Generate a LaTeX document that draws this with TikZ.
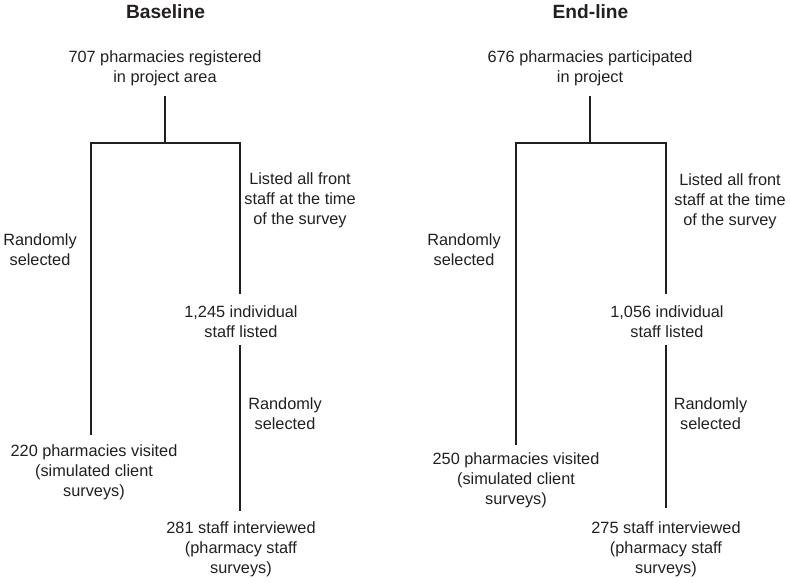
\documentclass[tikz,border=0pt]{standalone}
\usepackage{fontspec}
\setmainfont{Liberation Sans}
\definecolor{ink}{RGB}{35,31,32}
\begin{document}
\begin{tikzpicture}[x=1pt,y=-1pt,
  txt/.style={anchor=north,inner sep=0pt,outer sep=0pt,align=center,text=ink,font=\fontsize{16.3}{19.6}\selectfont},
  ttl/.style={anchor=north,inner sep=0pt,outer sep=0pt,text=ink,font=\fontsize{19.2}{22}\selectfont\bfseries},
  link/.style={draw=ink,line width=1.3pt}]
\useasboundingbox (0,0) rectangle (790,582);
% ---------- Baseline ----------
\node[ttl] (tA) at (165.5,4.5) {Baseline};
\node[txt] (topA) at (165,51) {707 pharmacies registered\\in project area};
\node[txt] (rsA) at (40,234) {Randomly\\selected};
\node[txt] (laA) at (300,173) {Listed all front\\staff at the time\\of the survey};
\node[txt] (indA) at (241,306) {1,245 individual\\staff listed};
\node[txt] (rs2A) at (285,398) {Randomly\\selected};
\node[txt] (visA) at (94,445) {220 pharmacies visited\\(simulated client\\surveys)};
\node[txt] (stA) at (241,522) {281 staff interviewed\\(pharmacy staff\\surveys)};
\coordinate (jA) at (165,143);
\coordinate (cLA) at (91,143);
\coordinate (cRA) at (240,143);
\draw[link,shorten <=10pt] (topA.south) -- (jA);
\draw[link,shorten <=10pt,shorten >=12pt] (visA.north -| cLA) -- (cLA) -- (cRA) -- (indA.north -| cRA);
\draw[link,shorten <=7pt,shorten >=11pt] (indA.south -| cRA) -- (stA.north -| cRA);
% ---------- End-line ----------
\node[ttl] (tB) at (590.5,4.5) {End-line};
\node[txt] (topB) at (590,51) {676 pharmacies participated\\in project};
\node[txt] (rsB) at (464,234) {Randomly\\selected};
\node[txt] (laB) at (730,174) {Listed all front\\staff at the time\\of the survey};
\node[txt] (indB) at (667,306) {1,056 individual\\staff listed};
\node[txt] (rs2B) at (710.5,398) {Randomly\\selected};
\node[txt] (visB) at (516,453) {250 pharmacies visited\\(simulated client\\surveys)};
\node[txt] (stB) at (666,522) {275 staff interviewed\\(pharmacy staff\\surveys)};
\coordinate (jB) at (590,143);
\coordinate (cLB) at (516,143);
\coordinate (cRB) at (666,143);
\draw[link,shorten <=10pt] (topB.south) -- (jB);
\draw[link,shorten <=8pt,shorten >=12pt] (visB.north -| cLB) -- (cLB) -- (cRB) -- (indB.north -| cRB);
\draw[link,shorten <=7pt,shorten >=14pt] (indB.south -| cRB) -- (stB.north -| cRB);
\end{tikzpicture}
\end{document}
